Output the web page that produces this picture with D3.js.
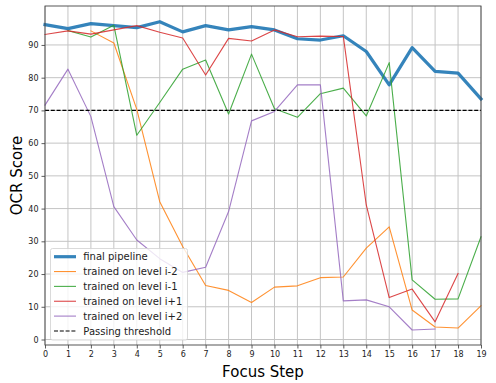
<!DOCTYPE html>
<html>
<head>
<meta charset="utf-8">
<script src="https://cdn.jsdelivr.net/npm/d3@7"></script>
<style>
  html, body { margin: 0; padding: 0; background: #fff; }
  svg { display: block; font-family: "DejaVu Sans", sans-serif; }
</style>
</head>
<body>
<svg id="chart" width="496" height="383"></svg>
<script>
// ---- data ----
const steps = d3.range(0, 20);
const finalPipeline = [96.2, 95.0, 96.5, 95.9, 95.3, 97.1, 94.0, 95.9, 94.6, 95.6, 94.6, 91.9, 91.5, 92.8, 88.0, 77.8, 89.2, 81.9, 81.4, 73.5];
const levelM2 = [null, null, 94.3, 90.6, 70.3, 42.1, 28.4, 16.5, 15.0, 11.3, 16.0, 16.4, 18.9, 19.1, 27.9, 34.4, 9.0, 3.8, 3.5, 10.3];
const levelM1 = [null, 94.4, 92.4, 96.0, 62.4, 72.4, 82.6, 85.4, 68.9, 87.2, 70.5, 67.9, 75.1, 76.8, 68.3, 84.6, 18.2, 12.3, 12.4, 31.4];
const levelP1 = [93.2, 94.3, 93.3, 94.6, 95.9, 93.9, 92.1, 80.8, 92.0, 91.2, 94.6, 92.5, 92.7, 92.6, 41.1, 12.8, 15.4, 5.4, 20.2, null];
const levelP2 = [71.6, 82.6, 68.1, 40.6, 30.4, 24.7, 20.5, 22.1, 39.1, 66.8, 69.7, 77.8, 77.8, 11.8, 12.1, 10.0, 2.9, 3.2, null, null];
const threshold = 70;
const xTicks = d3.range(0, 20);
const yTicks = d3.range(0, 100, 10);
const seriesNames = ["final pipeline", "trained on level i-2", "trained on level i-1", "trained on level i+1", "trained on level i+2"];
const seriesColors = ["#1f77b4", "#ff7f0e", "#2ca02c", "#d62728", "#9467bd"];
const seriesWidths = [3.2, 1.1, 1.1, 1.1, 1.1];
const seriesOpacity = [0.9, 0.85, 0.85, 0.85, 0.85];
const seriesValues = [finalPipeline, levelM2, levelM1, levelP1, levelP2];

// ---- layout ----
const svg = d3.select("#chart");
const L = 45, R = 481, T = 6, B = 345;
const x = d3.scaleLinear().domain([0, 19]).range([L, R]);
const y = d3.scaleLinear().domain([-1.68, 101.9]).range([B, T]);

// grid
const g = svg.append("g");
g.selectAll(".vg").data(xTicks).join("line")
  .attr("x1", d => x(d)).attr("x2", d => x(d)).attr("y1", T).attr("y2", B)
  .attr("stroke", "#c4c4c4").attr("stroke-width", 1);
g.selectAll(".hg").data(yTicks).join("line")
  .attr("x1", L).attr("x2", R).attr("y1", d => y(d)).attr("y2", d => y(d))
  .attr("stroke", "#c4c4c4").attr("stroke-width", 1);

// axes
const xAxis = d3.axisBottom(x).tickValues(xTicks).tickSize(3.5).tickPadding(3).tickFormat(d3.format("d"));
const yAxis = d3.axisLeft(y).tickValues(yTicks).tickSize(3.5).tickPadding(3).tickFormat(d3.format("d"));
const gx = svg.append("g").attr("transform", `translate(0,${B})`).call(xAxis);
const gy = svg.append("g").attr("transform", `translate(${L},0)`).call(yAxis);
[gx, gy].forEach(a => {
  a.select(".domain").remove();
  a.selectAll("line").attr("stroke", "#333").attr("stroke-width", 0.8);
  a.selectAll("text").attr("fill", "#222").style("font-size", "8px").style("font-family", "DejaVu Sans");
});

// lines
const line = d3.line().defined(d => d[1] !== null).x(d => x(d[0])).y(d => y(d[1]));
const plot = svg.append("g");
seriesValues.forEach((vals, i) => {
  plot.append("path")
    .datum(steps.map((s, j) => [s, vals[j]]))
    .attr("d", line)
    .attr("fill", "none")
    .attr("stroke", seriesColors[i])
    .attr("stroke-opacity", seriesOpacity[i])
    .attr("stroke-width", seriesWidths[i])
    .attr("stroke-linejoin", "round")
    .attr("stroke-linecap", "square");
});
plot.append("line")
  .attr("x1", x(0)).attr("x2", x(19)).attr("y1", y(threshold)).attr("y2", y(threshold))
  .attr("stroke", "#000").attr("stroke-width", 1.1).attr("stroke-dasharray", "4,1.8");

// frame
svg.append("rect").attr("x", L).attr("y", T).attr("width", R - L).attr("height", B - T)
  .attr("fill", "none").attr("stroke", "#444").attr("stroke-width", 0.9);

// axis labels
svg.append("text").attr("x", (L + R) / 2).attr("y", 377).attr("text-anchor", "middle")
  .style("font-size", "15px").attr("fill", "#000").text("Focus Step");
svg.append("text").attr("transform", `translate(22,${(T + B) / 2}) rotate(-90)`).attr("text-anchor", "middle")
  .style("font-size", "15px").attr("fill", "#000").text("OCR Score");

// legend
const lg = svg.append("g");
lg.append("rect").attr("x", 50.5).attr("y", 248.5).attr("width", 137).attr("height", 91.5).attr("rx", 2)
  .attr("fill", "#fff").attr("fill-opacity", 0.8).attr("stroke", "#d0d0d0").attr("stroke-width", 0.8);
const legendItems = seriesNames.map((n, i) => ({ name: n, color: seriesColors[i], w: seriesWidths[i], op: seriesOpacity[i], dash: null }))
  .concat([{ name: "Passing threshold", color: "#000", w: 1.1, op: 1, dash: "4,1.8" }]);
legendItems.forEach((it, i) => {
  const yy = 256.7 + i * 14.85;
  lg.append("line").attr("x1", 54).attr("x2", 76).attr("y1", yy).attr("y2", yy)
    .attr("stroke", it.color).attr("stroke-opacity", it.op).attr("stroke-width", it.w).attr("stroke-dasharray", it.dash);
  lg.append("text").attr("x", 83.3).attr("y", yy + 3.6).style("font-size", "10px").attr("fill", "#222").text(it.name);
});
</script>
</body>
</html>
